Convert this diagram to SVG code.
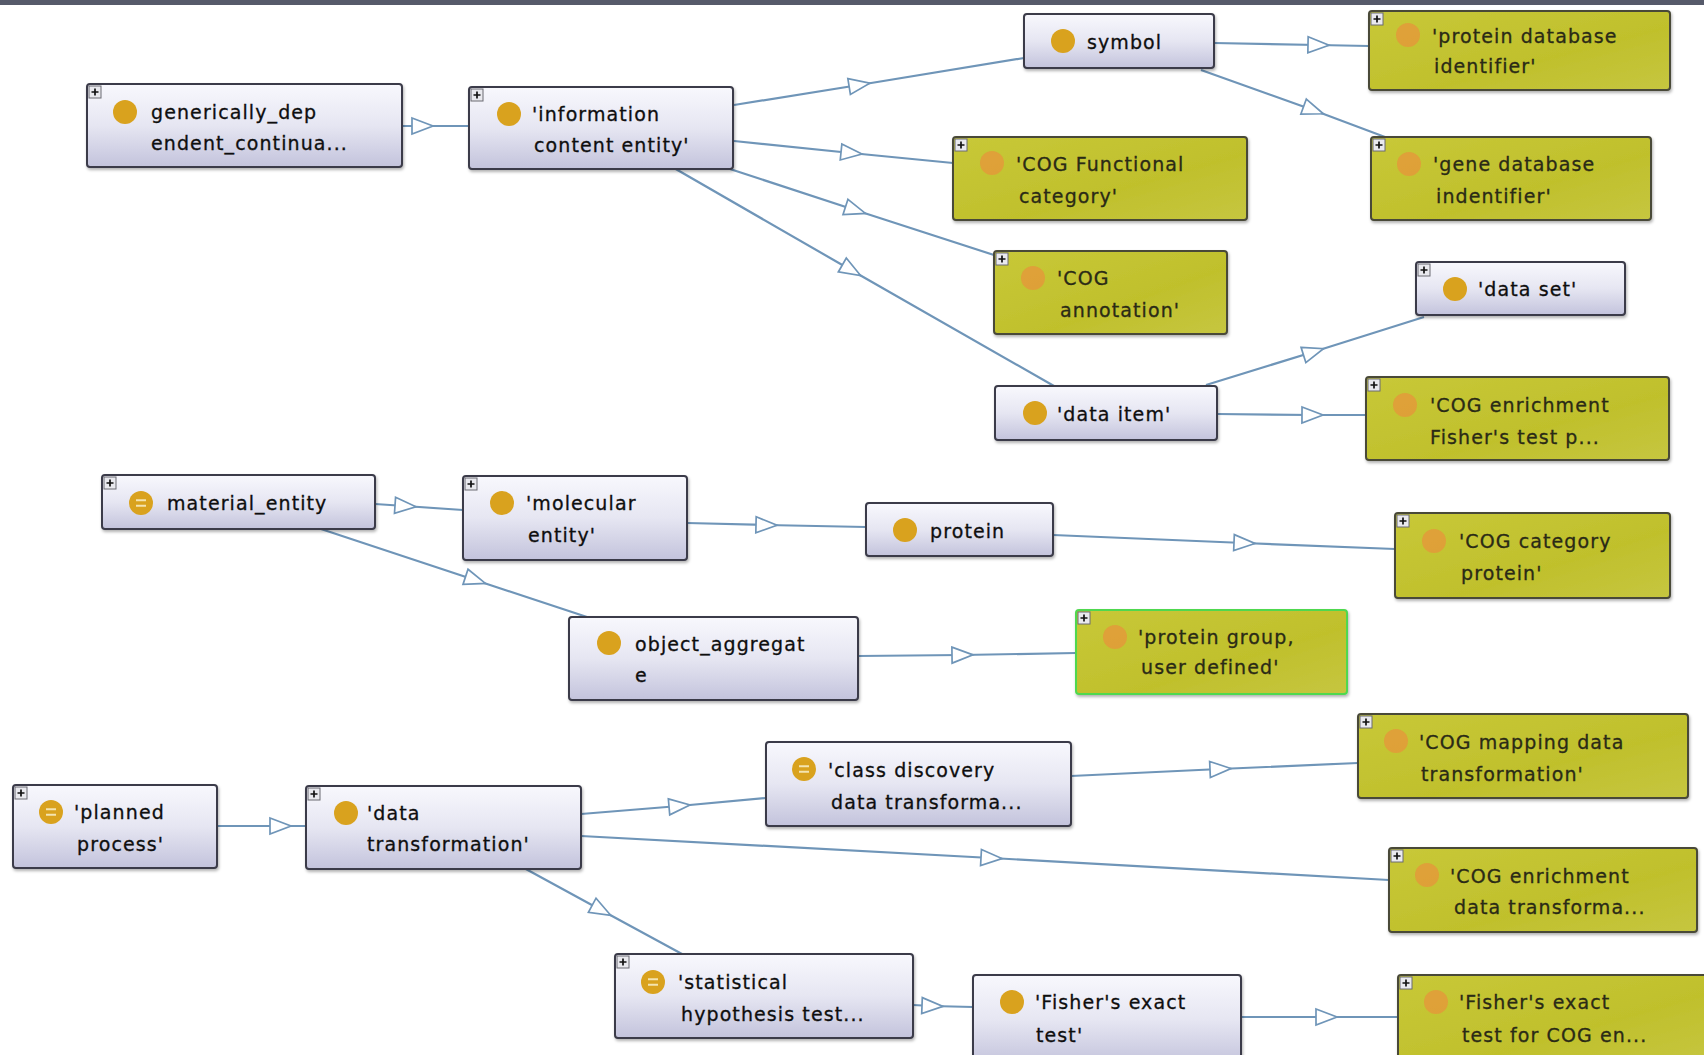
<svg xmlns="http://www.w3.org/2000/svg" xmlns:xlink="http://www.w3.org/1999/xlink" width="1704" height="1055" viewBox="0 0 1704 1055">
<defs>
<linearGradient id="gLav" x1="0" y1="0" x2="0" y2="1">
<stop offset="0" stop-color="#f8f8fd"/>
<stop offset="0.5" stop-color="#e6e6f2"/>
<stop offset="1" stop-color="#c3c3dc"/>
</linearGradient>
<linearGradient id="gGrn" x1="0" y1="0" x2="1" y2="1">
<stop offset="0" stop-color="#c8c838"/>
<stop offset="0.6" stop-color="#c0c02c"/>
<stop offset="1" stop-color="#c6c640"/>
</linearGradient>
<filter id="sh" x="-5%" y="-10%" width="112%" height="130%">
<feDropShadow dx="1" dy="2" stdDeviation="1.5" flood-color="#000" flood-opacity="0.3"/>
</filter>
<marker id="tri" markerUnits="userSpaceOnUse" markerWidth="28" markerHeight="24" viewBox="-14 -12 28 24" refX="0" refY="0" orient="auto">
<path d="M-10,-8 L11,0 L-10,8 Z" fill="#ffffff" stroke="#6f95b8" stroke-width="1.7" stroke-linejoin="miter"/>
</marker>
<g id="plus">
<rect x="0" y="0" width="12" height="12" fill="#e9e9ee" stroke="#6a6a72" stroke-width="1"/>
<path d="M2.5,6 H9.5 M6,2.5 V9.5" stroke="#111" stroke-width="1.7"/>
</g>
<path id="eq" d="M-5,-2.8 H5 M-5,2.8 H5" stroke="#f4e4b0" stroke-width="2"/>
</defs>
<style>
.box{stroke-width:2;filter:url(#sh)}
.lav .box{fill:url(#gLav);stroke:#3a3a48}
.grn .box{fill:url(#gGrn);stroke:#4a4a38}
.sel .box{stroke:#4fd84f}
.dot{fill:#d9a21e}
.grn .dot{fill:#e39a3a;opacity:0.85}
.lbl{font-family:"DejaVu Sans",sans-serif;font-size:19px;letter-spacing:1.1px;stroke-width:0.3px}
.lav .lbl{fill:#0e0e0e;stroke:#0e0e0e}
.grn .lbl{fill:#2a2a16;stroke:#2a2a16}
.edge{fill:none;stroke:#6f95b8;stroke-width:2.2;marker-mid:url(#tri)}
</style>
<rect x="0" y="0" width="1704" height="1055" fill="#ffffff"/>
<rect x="0" y="0" width="1704" height="5" fill="#565a6a"/>

<g id="connectors">
<path class="edge" d="M402,126 L422,126 L469,126"/>
<path class="edge" d="M734,105 L859,85 L1024,58"/>
<path class="edge" d="M734,141 L851,153 L953,163"/>
<path class="edge" d="M730,169 L855,210 L994,255"/>
<path class="edge" d="M674,168 L851,270 L1054,386"/>
<path class="edge" d="M1214,43 L1318,45 L1369,46"/>
<path class="edge" d="M1201,70 L1313,110 L1385,137"/>
<path class="edge" d="M1206,385 L1313,352 L1424,317"/>
<path class="edge" d="M1217,414 L1312,415 L1366,415"/>
<path class="edge" d="M375,504 L405,506 L463,510"/>
<path class="edge" d="M321,529 L475,580 L587,617"/>
<path class="edge" d="M687,523 L766,525 L866,527"/>
<path class="edge" d="M1053,535 L1244,543 L1395,549"/>
<path class="edge" d="M858,656 L962,655 L1076,653"/>
<path class="edge" d="M217,826 L280,826 L306,826"/>
<path class="edge" d="M581,814 L679,806 L766,798"/>
<path class="edge" d="M581,836 L991,858 L1389,880"/>
<path class="edge" d="M524,868 L601,910 L682,954"/>
<path class="edge" d="M913,1005 L932,1006 L973,1007"/>
<path class="edge" d="M1071,776 L1220,769 L1358,763"/>
<path class="edge" d="M1241,1017 L1326,1017 L1398,1017"/>
</g>

<g id="n01" class="node lav">
<rect class="box" x="87" y="84" width="315" height="83" rx="3"/>
<use href="#plus" x="89" y="86"/>
<circle class="dot" cx="125" cy="112" r="12"/>
<text class="lbl" x="151" y="119">generically_dep</text>
<text class="lbl" x="151" y="150">endent_continua...</text>
</g>
<g id="n02" class="node lav">
<rect class="box" x="469" y="87" width="264" height="82" rx="3"/>
<use href="#plus" x="471" y="89"/>
<circle class="dot" cx="509" cy="114" r="12"/>
<text class="lbl" x="532" y="121">'information</text>
<text class="lbl" x="534" y="152">content entity'</text>
</g>
<g id="n03" class="node lav">
<rect class="box" x="1024" y="14" width="190" height="54" rx="3"/>
<circle class="dot" cx="1063" cy="41" r="12"/>
<text class="lbl" x="1087" y="49">symbol</text>
</g>
<g id="n04" class="node grn">
<rect class="box" x="1369" y="11" width="301" height="79" rx="3"/>
<use href="#plus" x="1371" y="13"/>
<circle class="dot" cx="1408" cy="35" r="12"/>
<text class="lbl" x="1432" y="43">'protein database</text>
<text class="lbl" x="1434" y="73">identifier'</text>
</g>
<g id="n05" class="node grn">
<rect class="box" x="953" y="137" width="294" height="83" rx="3"/>
<use href="#plus" x="955" y="139"/>
<circle class="dot" cx="992" cy="163" r="12"/>
<text class="lbl" x="1016" y="171">'COG Functional</text>
<text class="lbl" x="1019" y="203">category'</text>
</g>
<g id="n06" class="node grn">
<rect class="box" x="1371" y="137" width="280" height="83" rx="3"/>
<use href="#plus" x="1373" y="139"/>
<circle class="dot" cx="1409" cy="164" r="12"/>
<text class="lbl" x="1433" y="171">'gene database</text>
<text class="lbl" x="1436" y="203">indentifier'</text>
</g>
<g id="n07" class="node grn">
<rect class="box" x="994" y="251" width="233" height="83" rx="3"/>
<use href="#plus" x="996" y="253"/>
<circle class="dot" cx="1033" cy="278" r="12"/>
<text class="lbl" x="1057" y="285">'COG</text>
<text class="lbl" x="1060" y="317">annotation'</text>
</g>
<g id="n08" class="node lav">
<rect class="box" x="1416" y="262" width="209" height="53" rx="3"/>
<use href="#plus" x="1418" y="264"/>
<circle class="dot" cx="1455" cy="289" r="12"/>
<text class="lbl" x="1478" y="296">'data set'</text>
</g>
<g id="n09" class="node lav">
<rect class="box" x="995" y="386" width="222" height="54" rx="3"/>
<circle class="dot" cx="1035" cy="413" r="12"/>
<text class="lbl" x="1057" y="421">'data item'</text>
</g>
<g id="n10" class="node grn">
<rect class="box" x="1366" y="377" width="303" height="83" rx="3"/>
<use href="#plus" x="1368" y="379"/>
<circle class="dot" cx="1405" cy="405" r="12"/>
<text class="lbl" x="1430" y="412">'COG enrichment</text>
<text class="lbl" x="1430" y="444">Fisher's test p...</text>
</g>
<g id="n11" class="node lav">
<rect class="box" x="102" y="475" width="273" height="54" rx="3"/>
<use href="#plus" x="104" y="477"/>
<circle class="dot" cx="141" cy="503" r="12"/>
<use href="#eq" x="141" y="503"/>
<text class="lbl" x="167" y="510">material_entity</text>
</g>
<g id="n12" class="node lav">
<rect class="box" x="463" y="476" width="224" height="84" rx="3"/>
<use href="#plus" x="465" y="478"/>
<circle class="dot" cx="502" cy="503" r="12"/>
<text class="lbl" x="526" y="510">'molecular</text>
<text class="lbl" x="528" y="542">entity'</text>
</g>
<g id="n13" class="node lav">
<rect class="box" x="866" y="503" width="187" height="53" rx="3"/>
<circle class="dot" cx="905" cy="530" r="12"/>
<text class="lbl" x="930" y="538">protein</text>
</g>
<g id="n14" class="node grn">
<rect class="box" x="1395" y="513" width="275" height="85" rx="3"/>
<use href="#plus" x="1397" y="515"/>
<circle class="dot" cx="1434" cy="541" r="12"/>
<text class="lbl" x="1459" y="548">'COG category</text>
<text class="lbl" x="1461" y="580">protein'</text>
</g>
<g id="n15" class="node lav">
<rect class="box" x="569" y="617" width="289" height="83" rx="3"/>
<circle class="dot" cx="609" cy="643" r="12"/>
<text class="lbl" x="635" y="651">object_aggregat</text>
<text class="lbl" x="635" y="682">e</text>
</g>
<g id="n16" class="node grn sel">
<rect class="box" x="1076" y="610" width="271" height="84" rx="3"/>
<use href="#plus" x="1078" y="612"/>
<circle class="dot" cx="1115" cy="637" r="12"/>
<text class="lbl" x="1138" y="644">'protein group,</text>
<text class="lbl" x="1141" y="674">user defined'</text>
</g>
<g id="n17" class="node lav">
<rect class="box" x="13" y="785" width="204" height="83" rx="3"/>
<use href="#plus" x="15" y="787"/>
<circle class="dot" cx="51" cy="812" r="12"/>
<use href="#eq" x="51" y="812"/>
<text class="lbl" x="74" y="819">'planned</text>
<text class="lbl" x="77" y="851">process'</text>
</g>
<g id="n18" class="node lav">
<rect class="box" x="306" y="786" width="275" height="83" rx="3"/>
<use href="#plus" x="308" y="788"/>
<circle class="dot" cx="346" cy="813" r="12"/>
<text class="lbl" x="367" y="820">'data</text>
<text class="lbl" x="367" y="851">transformation'</text>
</g>
<g id="n19" class="node lav">
<rect class="box" x="766" y="742" width="305" height="84" rx="3"/>
<circle class="dot" cx="804" cy="769" r="12"/>
<use href="#eq" x="804" y="769"/>
<text class="lbl" x="828" y="777">'class discovery</text>
<text class="lbl" x="831" y="809">data transforma...</text>
</g>
<g id="n20" class="node grn">
<rect class="box" x="1358" y="714" width="330" height="84" rx="3"/>
<use href="#plus" x="1360" y="716"/>
<circle class="dot" cx="1396" cy="741" r="12"/>
<text class="lbl" x="1419" y="749">'COG mapping data</text>
<text class="lbl" x="1421" y="781">transformation'</text>
</g>
<g id="n21" class="node grn">
<rect class="box" x="1389" y="848" width="308" height="84" rx="3"/>
<use href="#plus" x="1391" y="850"/>
<circle class="dot" cx="1427" cy="875" r="12"/>
<text class="lbl" x="1450" y="883">'COG enrichment</text>
<text class="lbl" x="1454" y="914">data transforma...</text>
</g>
<g id="n22" class="node lav">
<rect class="box" x="615" y="954" width="298" height="84" rx="3"/>
<use href="#plus" x="617" y="956"/>
<circle class="dot" cx="653" cy="982" r="12"/>
<use href="#eq" x="653" y="982"/>
<text class="lbl" x="678" y="989">'statistical</text>
<text class="lbl" x="681" y="1021">hypothesis test...</text>
</g>
<g id="n23" class="node lav">
<rect class="box" x="973" y="975" width="268" height="90" rx="3"/>
<circle class="dot" cx="1012" cy="1002" r="12"/>
<text class="lbl" x="1035" y="1009">'Fisher's exact</text>
<text class="lbl" x="1036" y="1042">test'</text>
</g>
<g id="n24" class="node grn">
<rect class="box" x="1398" y="975" width="312" height="90" rx="3"/>
<use href="#plus" x="1400" y="977"/>
<circle class="dot" cx="1436" cy="1002" r="12"/>
<text class="lbl" x="1459" y="1009">'Fisher's exact</text>
<text class="lbl" x="1462" y="1042">test for COG en...</text>
</g>
</svg>
